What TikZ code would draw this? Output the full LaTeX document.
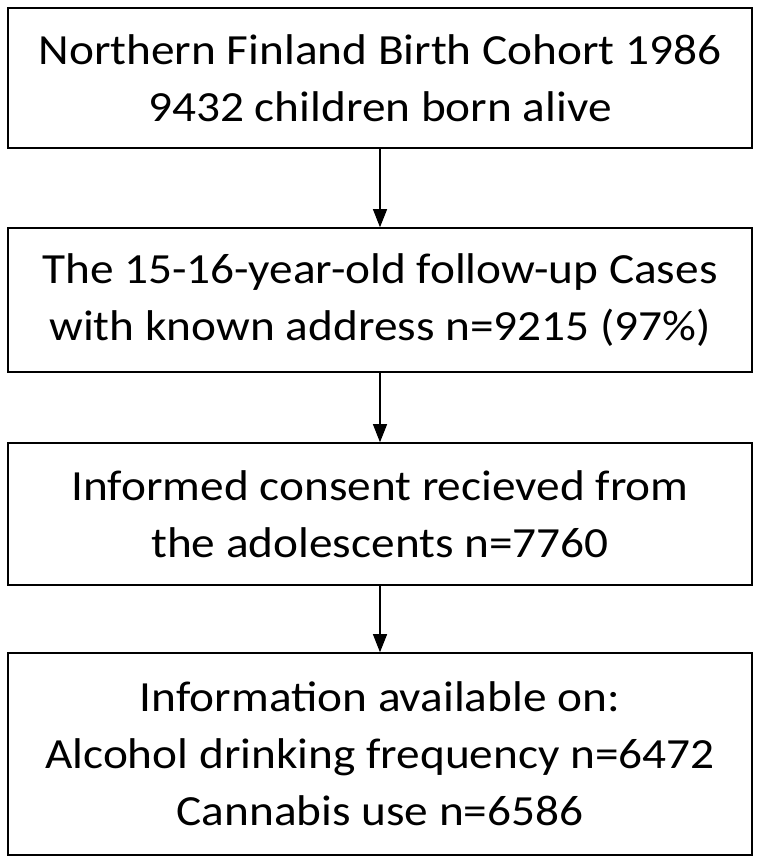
\documentclass[tikz,border=0pt]{standalone}
\usepackage{fontspec}
\setmainfont{Carlito}[FakeStretch=1.1]
\usetikzlibrary{arrows.meta}
\begin{document}
\begin{tikzpicture}[x=1pt,y=-1pt, every text node part/.style={align=center}]
        \tikzset{
          stagebox/.style={draw, line width=1.6pt, minimum width=744pt, inner sep=0pt,
            font=\fontsize{43}{57}\selectfont},
          flowarrow/.style={line width=1.2pt, -{Triangle[length=18pt,width=14pt]}},
        }
        \useasboundingbox (0,0) rectangle (760,865);
        \node [stagebox, minimum height=140pt] (cohort) at (380,78) {Northern  Finland Birth  Cohort 1986 \\ 9432 children born  alive};
        \node [stagebox, minimum height=144pt] (followup) at (380,300) {The 15-16-year-old follow-up  Cases \\ with known  address n=9215  (97\%)};
        \node [stagebox, minimum height=142pt] (consent) at (380,514) {Informed  consent recieved from \\ the  adolescents n=7760};
        \node [stagebox, minimum height=202pt] (info) at (380,754) {Information  available on: \\ Alcohol drinking  frequency n=6472 \\ Cannabis use n=6586};
        \draw [flowarrow] (cohort.south) -- (followup.north);
        \draw [flowarrow] (followup.south) -- (consent.north);
        \draw [flowarrow] (consent.south) -- (info.north);
    \end{tikzpicture}
\end{document}
